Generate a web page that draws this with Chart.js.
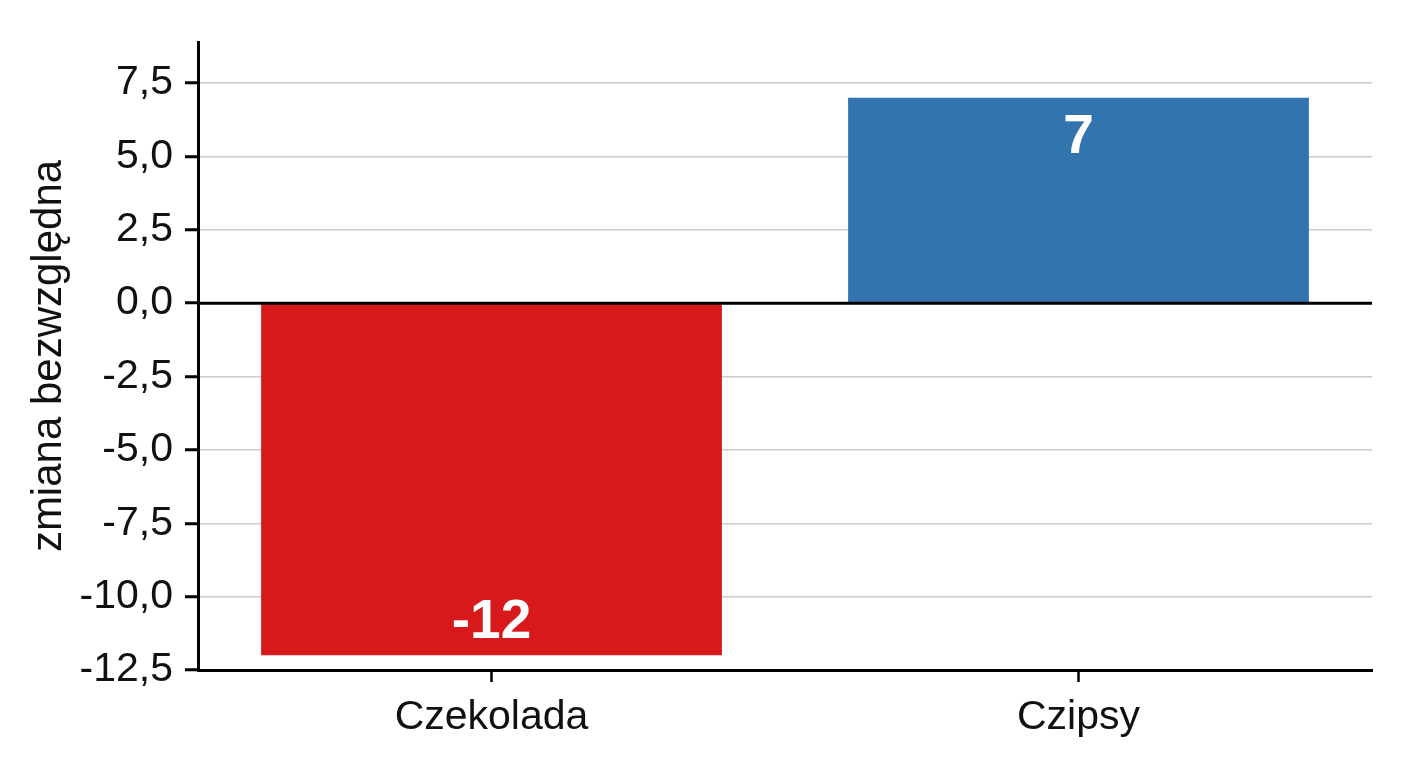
<!DOCTYPE html>
<html>
<head>
<meta charset="utf-8">
<script src="https://cdn.jsdelivr.net/npm/chart.js@4"></script>
<style>
  html, body { margin: 0; padding: 0; background: #fff; }
  #wrap { width: 1408px; height: 768px; }
</style>
</head>
<body>
<div id="wrap"><canvas id="changeChart" width="1408" height="768"></canvas></div>
<script>
// Data
const categories = ['Czekolada', 'Czipsy'];
const changes = [-12, 7];
const barColors = ['#d7191c', '#3274ad'];
const axisTitle = 'zmiana bezwzględna';

const FONT = "'Liberation Sans', Arial, sans-serif";

function isStep(v) {
    return Math.abs(Math.round(v / 2.5) * 2.5 - v) < 1e-6;
}

// zero line on top of the bars
const zeroLine = {
    id: 'zeroLine',
    afterDatasetsDraw(chart) {
        const { ctx, chartArea, scales } = chart;
        const y = scales.y.getPixelForValue(0);
        ctx.save();
        ctx.strokeStyle = '#000';
        ctx.lineWidth = 3;
        ctx.beginPath();
        ctx.moveTo(chartArea.left, y);
        ctx.lineTo(chartArea.right, y);
        ctx.stroke();
        ctx.restore();
    }
};

// value labels inside the bars
const barLabels = {
    id: 'barLabels',
    afterDatasetsDraw(chart) {
        const { ctx } = chart;
        const meta = chart.getDatasetMeta(0);
        ctx.save();
        ctx.fillStyle = '#fff';
        ctx.font = "bold 55px " + FONT;
        ctx.textAlign = 'center';
        ctx.textBaseline = 'middle';
        meta.data.forEach((bar, i) => {
            const v = changes[i];
            const y = v < 0 ? bar.y - 32 : bar.y + 40;
            ctx.fillText(String(v), bar.x, y);
        });
        ctx.restore();
    }
};

const ctx = document.getElementById('changeChart').getContext('2d');
new Chart(ctx, {
    type: 'bar',
    data: {
        labels: categories,
        datasets: [{
            data: changes,
            backgroundColor: barColors,
            borderWidth: 0,
            categoryPercentage: 1,
            barPercentage: 0.785
        }]
    },
    options: {
        responsive: false,
        animation: false,
        devicePixelRatio: 1,
        layout: { padding: { top: 42, right: 36, left: 0, bottom: 0 } },
        plugins: {
            legend: { display: false },
            tooltip: { enabled: false }
        },
        scales: {
            x: {
                offset: true,
                border: { color: '#000', width: 3 },
                grid: {
                    offset: false,
                    drawOnChartArea: false,
                    drawTicks: true,
                    tickLength: 12,
                    tickColor: '#000',
                    tickWidth: 2.5
                },
                ticks: {
                    color: '#111',
                    padding: 11,
                    font: { family: FONT, size: 41 }
                },
                afterFit(scale) { scale.height = 98; }
            },
            y: {
                min: -12.5,
                max: 8.9,
                border: { color: '#000', width: 3 },
                grid: {
                    color: c => (isStep(c.tick.value) && c.tick.value !== 0) ? '#cccccc' : 'rgba(0,0,0,0)',
                    lineWidth: 1.5,
                    tickLength: 13,
                    tickColor: c => isStep(c.tick.value) ? '#000' : 'rgba(0,0,0,0)',
                    tickWidth: 3
                },
                ticks: {
                    stepSize: 2.5,
                    includeBounds: false,
                    color: '#111',
                    padding: 12,
                    font: { family: FONT, size: 41 },
                    callback: v => isStep(v) ? v.toFixed(1).replace('.', ',') : ''
                },
                title: {
                    display: true,
                    text: axisTitle,
                    color: '#111',
                    padding: { top: 24, bottom: 0 },
                    font: { family: FONT, size: 42 }
                },
                afterFit(scale) { scale.width = 198; }
            }
        }
    },
    plugins: [zeroLine, barLabels]
});
</script>
</body>
</html>
